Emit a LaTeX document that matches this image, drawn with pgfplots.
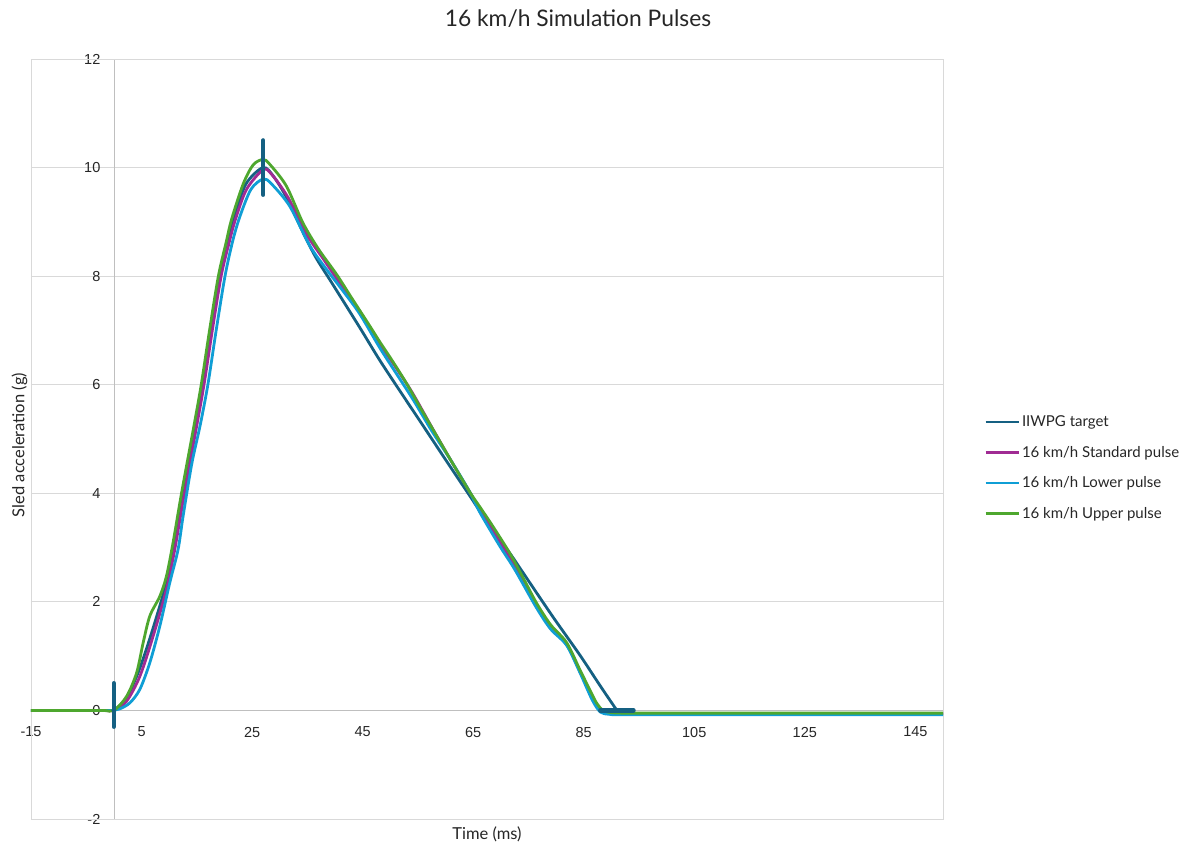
\documentclass[border=0pt]{standalone}
\usepackage{pgfplots}
\pgfplotsset{compat=1.18}
\usepackage{fontspec}
\setmainfont{Lato}
\newfontfamily\tickfont{Liberation Sans}

\definecolor{iiwpg}{HTML}{156082}
\definecolor{stdpulse}{HTML}{A02B93}
\definecolor{lowpulse}{HTML}{0F9ED5}
\definecolor{uppulse}{HTML}{4EA72E}
\definecolor{gridgray}{HTML}{D9D9D9}
\definecolor{axgray}{HTML}{BFBFBF}
\definecolor{txt}{HTML}{262626}

\begin{document}
\begin{tikzpicture}
\path[use as bounding box] (-31pt,-23pt) rectangle (1148pt,819pt);
\begin{axis}[
    scale only axis, width=912pt, height=760pt,
    xmin=-15, xmax=150, ymin=-2, ymax=12,
    axis lines=middle,
    axis line style={axgray, line width=0.8pt, -},
    hide obscured x ticks=false, hide obscured y ticks=false,
    xtick={-15,5,25,45,65,85,105,125,145},
    xticklabels={-15,5,25,45,65,85,105,125,145},
    ytick={-2,0,2,4,6,8,10,12},
    yticklabels={-2,0,2,4,6,8,10,12},
    major tick length=0pt,
    ymajorgrids, grid style={gridgray, line width=0.8pt},
    x tick label style={font=\tickfont\fontsize{14.5}{16}\selectfont, text=txt, anchor=north, yshift=-13pt},
    y tick label style={font=\tickfont\fontsize{14.5}{16}\selectfont, text=txt, anchor=east, xshift=-10pt},
    xlabel={Time (ms)}, ylabel={Sled acceleration (g)},
    every axis x label/.style={at={(rel axis cs:0.5,0)}, anchor=north, yshift=-4pt, font=\fontsize{16.5}{19}\selectfont, text=txt},
    every axis y label/.style={at={(rel axis cs:0,0.5)}, anchor=south, rotate=90, xshift=-6pt, font=\fontsize{16.5}{19}\selectfont, text=txt},
    title={16 km/h Simulation Pulses},
    title style={at={(rel axis cs:0,1)}, anchor=base, xshift=547pt, yshift=26pt, font=\fontsize{22.8}{26}\selectfont, text=txt},
    legend style={at={(rel axis cs:1,0.462)}, anchor=west, xshift=38pt, draw=none, fill=none,
        font=\fontsize{15}{17}\selectfont, text=txt, row sep=14pt, cells={anchor=west}},
    legend image code/.code={\draw[#1, line width=2.8pt] (0pt,0pt) -- (33pt,0pt);},
    clip=false,
]
\draw[gridgray, line width=0.8pt] (rel axis cs:0,0) rectangle (rel axis cs:1,1);

\addplot[iiwpg, line width=2.8pt, smooth] coordinates {
(0,0)(2.3,0.23)(4.7,0.78)(7.1,1.52)(9.5,2.35)(10.8,2.96)(12.5,4.0)(14.6,5.17)(16.1,6.0)(17.6,7.0)(19.2,8.0)(20.6,8.62)(21.8,9.1)(23.9,9.7)(27,10)(29,9.82)(31.5,9.4)(34,8.85)(36.5,8.35)(39.4,7.88)(44.5,7.05)(48.1,6.45)(52.3,5.8)(55.9,5.25)(60,4.62)(64.4,3.95)(68,3.4)(71.6,2.9)(74,2.54)(79.45,1.72)(84.3,1.02)(88,0.45)(91,0)
};
\addlegendentry{IIWPG target}

\addplot[stdpulse, line width=2.8pt, smooth] coordinates {
(-15,0)(-8,0)(-2,0)(0,0)(2.3,0.17)(4.7,0.63)(7.1,1.37)(9.5,2.23)(11,2.96)(12.75,4.0)(14.85,5.17)(16.3,6.0)(17.8,7.0)(19.4,8.0)(20.8,8.6)(22,9.05)(24,9.6)(27,9.96)(28.5,9.88)(31.5,9.45)(35,8.75)(38,8.3)(41,7.85)(44.5,7.35)(48.1,6.75)(51,6.32)(54,5.85)(57.6,5.2)(61,4.6)(64.4,4.02)(66.2,3.7)(69.8,3.1)(72.5,2.65)(76.4,1.92)(79,1.55)(81.9,1.22)(84.3,0.72)(86.5,0.25)(88.2,0)(89.5,-0.05)(91,-0.06)(96,-0.06)(120,-0.06)(150,-0.06)
};
\addlegendentry{16 km/h Standard pulse}

\addplot[lowpulse, line width=2.8pt, smooth] coordinates {
(-15,0)(-8,0)(-2,0)(0,0)(1.1,0.03)(2.9,0.14)(4.7,0.39)(6.5,0.88)(8.3,1.55)(10.1,2.35)(11.6,2.96)(12.55,3.6)(14.1,4.55)(15.6,5.25)(17,6.0)(18.5,7.0)(20.1,8.0)(21.5,8.65)(22.8,9.1)(24.8,9.6)(27,9.79)(28.5,9.7)(31.8,9.29)(35.5,8.55)(38.5,8.12)(41.5,7.72)(44.5,7.3)(48.1,6.68)(51,6.22)(54.1,5.73)(57.5,5.15)(61,4.6)(64.4,4.02)(66.2,3.65)(69.8,3.03)(72.5,2.6)(76.4,1.9)(79,1.5)(81.9,1.2)(84.3,0.7)(86.5,0.2)(88,-0.03)(89.5,-0.07)(91,-0.08)(96,-0.08)(120,-0.08)(150,-0.08)
};
\addlegendentry{16 km/h Lower pulse}

\addplot[uppulse, line width=2.8pt, smooth] coordinates {
(-15,0)(-8,0)(-2,0)(0,0)(2.3,0.26)(4.1,0.69)(5.3,1.25)(6.5,1.74)(8.3,2.1)(9.5,2.47)(10.7,3.09)(12.25,4.01)(14.35,5.17)(15.8,6.0)(17.3,7.0)(18.9,8.0)(20.3,8.62)(21.3,9.05)(23.4,9.7)(25.2,10.05)(27,10.15)(28.2,10.06)(31.2,9.66)(34.2,8.98)(37,8.5)(40.3,8.03)(43,7.6)(46.3,7.08)(48.1,6.79)(50.5,6.42)(52.9,6.03)(55.3,5.6)(57.75,5.17)(61,4.6)(64.4,4.02)(66.2,3.75)(68.5,3.4)(71.6,2.9)(74,2.45)(76.45,1.98)(79,1.58)(81.9,1.25)(84.3,0.75)(86,0.4)(87.3,0.14)(88.5,0)(90,-0.04)(92,-0.05)(96,-0.05)(120,-0.05)(150,-0.05)
};
\addlegendentry{16 km/h Upper pulse}

% target tolerance bars
\addplot[draw=none, forget plot,
    error bars/.cd, x dir=both, x explicit, y dir=both, y explicit,
    error mark=none, error bar style={iiwpg, line width=4.5pt, line cap=round}]
coordinates {
(0,0) += (0,0.5) -= (0,0.3)
(27,10) +- (0,0.5)
(91,0) +- (3,0)
};
\end{axis}
\end{tikzpicture}
\end{document}
